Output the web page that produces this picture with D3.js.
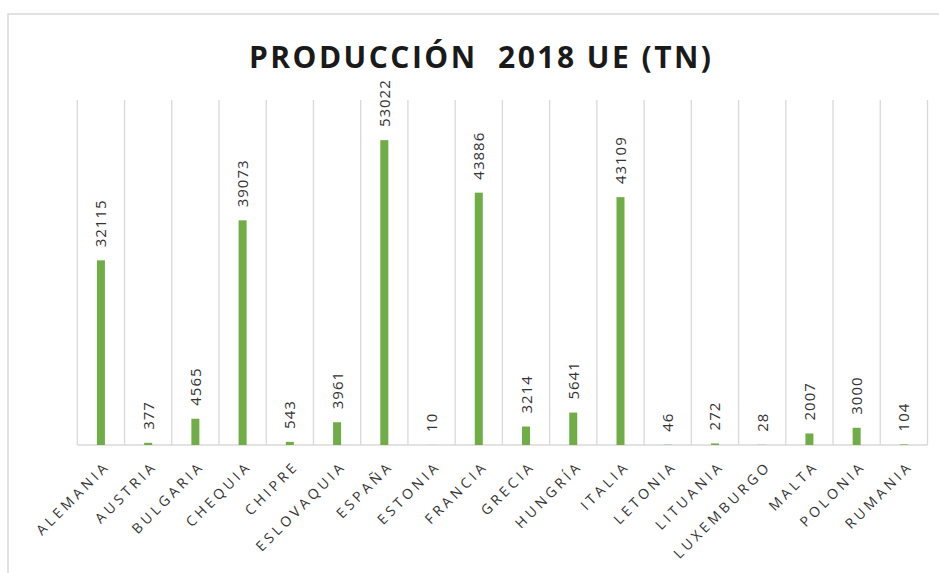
<!DOCTYPE html>
<html>
<head>
<meta charset="utf-8">
<script src="https://cdn.jsdelivr.net/npm/d3@7"></script>
<style>
	body { margin: 0; background: #fff; }
	svg { display: block; }
</style>
</head>
<body>
<svg id="chart" width="939" height="573"></svg>
<script>
// data
var countries = ['ALEMANIA', 'AUSTRIA', 'BULGARIA', 'CHEQUIA', 'CHIPRE', 'ESLOVAQUIA', 'ESPAÑA', 'ESTONIA',
	'FRANCIA', 'GRECIA', 'HUNGRÍA', 'ITALIA', 'LETONIA', 'LITUANIA', 'LUXEMBURGO', 'MALTA', 'POLONIA', 'RUMANIA'];
var production = [32115, 377, 4565, 39073, 543, 3961, 53022, 10,
	43886, 3214, 5641, 43109, 46, 272, 28, 2007, 3000, 104];
var title = 'PRODUCCIÓN  2018 UE (TN)';

var svg = d3.select('#chart');
var plot = {left: 77.3, right: 927.5, top: 100, bottom: 445};
var barW = 8;
var gridColor = '#d9d9d9';
var textColor = '#404040';

// chart area border
svg.append('rect')
	.attr('x', 8).attr('y', 14)
	.attr('width', 945).attr('height', 580)
	.attr('fill', '#fff')
	.attr('stroke', gridColor)
	.attr('stroke-width', 1.5);

svg.append('text')
	.attr('x', 480).attr('y', 68)
	.attr('text-anchor', 'middle')
	.attr('font-family', 'Open Sans')
	.attr('font-weight', 'bold')
	.attr('font-size', 30)
	.attr('fill', '#1a1a1a')
	.attr('textLength', 462)
	.attr('lengthAdjust', 'spacing')
	.style('white-space', 'pre')
	.text(title);

var x = d3.scaleBand()
	.domain(countries)
	.range([plot.left, plot.right])
	.padding(0);

var y = d3.scaleLinear()
	.domain([0, 60000])
	.range([plot.bottom, plot.top]);

// vertical gridlines at category boundaries
var bounds = countries.map(function(c) { return x(c); }).concat([plot.right]);
svg.append('g')
	.selectAll('line')
	.data(bounds)
	.join('line')
	.attr('x1', function(d) { return d; })
	.attr('x2', function(d) { return d; })
	.attr('y1', plot.top)
	.attr('y2', plot.bottom)
	.attr('stroke', gridColor)
	.attr('stroke-width', 1.3);

svg.append('line')
	.attr('x1', plot.left).attr('x2', plot.right)
	.attr('y1', plot.bottom).attr('y2', plot.bottom)
	.attr('stroke', gridColor)
	.attr('stroke-width', 1.5);

svg.append('g')
	.selectAll('rect')
	.data(production)
	.join('rect')
	.attr('x', function(d, i) { return x(countries[i]) + x.bandwidth() / 2 - barW / 2; })
	.attr('y', function(d) { return y(d); })
	.attr('width', barW)
	.attr('height', function(d) { return plot.bottom - y(d); })
	.attr('fill', '#70ad47');

// value labels, rotated
svg.append('g')
	.selectAll('text')
	.data(production)
	.join('text')
	.attr('transform', function(d, i) {
		var cx = x(countries[i]) + x.bandwidth() / 2;
		return 'translate(' + (cx + 5.5) + ',' + (y(d) - 13) + ') rotate(-90)';
	})
	.attr('font-family', 'Open Sans')
	.attr('font-size', 15)
	.attr('letter-spacing', 1)
	.attr('fill', '#333')
	.text(function(d) { return d; });

var xAxis = svg.append('g')
	.attr('transform', 'translate(0,' + plot.bottom + ')')
	.call(d3.axisBottom(x).tickSize(0));
xAxis.select('.domain').remove();
xAxis.selectAll('text')
	.attr('x', 0).attr('y', 0).attr('dy', 0)
	.attr('transform', 'translate(10,22) rotate(-45)')
	.attr('text-anchor', 'end')
	.attr('font-family', 'Open Sans')
	.attr('font-size', 14)
	.attr('letter-spacing', 3.6)
	.attr('fill', '#333');
</script>
</body>
</html>
